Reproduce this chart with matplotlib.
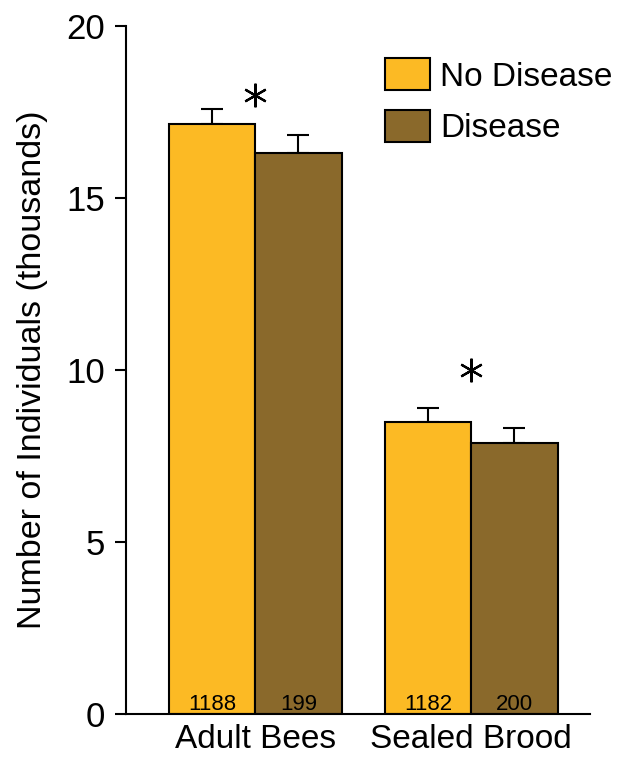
import numpy as np
import matplotlib.pyplot as plt

plt.rcParams['font.family'] = ['Liberation Sans', 'DejaVu Sans']

groups = ["Adult Bees", "Sealed Brood"]
labels = ["No Disease", "Disease"]
no_disease = [17.15, 8.49]
disease = [16.31, 7.88]
no_disease_err = [0.42, 0.41]
disease_err = [0.52, 0.43]
counts_nd = ["1188", "1182"]
counts_d = ["199", "200"]
star_y = [18.0, 10.0]

yellow = "#FCBA24"
brown = "#8A692B"

fig = plt.figure(figsize=(6.35, 7.58), dpi=100)
ax = fig.add_axes([0.198, 0.058, 0.731, 0.908])

x = np.arange(len(groups))
w = 0.4
ekw = dict(lw=1.5, capsize=8, capthick=1.5, ecolor="black")

ax.bar(x - w / 2, no_disease, w, color=yellow, edgecolor="black", lw=1.5,
       label=labels[0], zorder=2)
ax.bar(x + w / 2, disease, w, color=brown, edgecolor="black", lw=1.5,
       label=labels[1], zorder=2)
ax.errorbar(x - w / 2, no_disease, yerr=[np.zeros(2), no_disease_err],
            fmt="none", zorder=1, **ekw)
ax.errorbar(x + w / 2, disease, yerr=[np.zeros(2), disease_err],
            fmt="none", zorder=1, **ekw)

for i in range(len(groups)):
    ax.text(x[i] - w / 2, 0.12, counts_nd[i], ha="center", va="baseline", fontsize=16)
    ax.text(x[i] + w / 2, 0.12, counts_d[i], ha="center", va="baseline", fontsize=16)

ax.plot(x, star_y, ls="none", marker=(6, 2, 0), ms=17, mew=1.6, color="black")

ax.set_xlim(-0.60, 1.55)
ax.set_ylim(0, 20)
ax.set_yticks([0, 5, 10, 15, 20])
ax.set_xticks(x)
ax.set_xticklabels(groups, fontsize=24)
ax.tick_params(axis="x", length=0, pad=7)
ax.tick_params(axis="y", labelsize=25, length=8, width=1.5, pad=7)
ax.set_ylabel("Number of Individuals (thousands)", fontsize=24.5, labelpad=13)

for s in ["top", "right"]:
    ax.spines[s].set_visible(False)
for s in ["left", "bottom"]:
    ax.spines[s].set_linewidth(1.5)

ax.legend(loc="upper left", bbox_to_anchor=(0.53, 0.972), fontsize=24, frameon=False,
          handlelength=1.36, handleheight=1.1, handletextpad=0.3, labelspacing=0.52,
          borderaxespad=0)

fig.savefig("out.png", dpi=100)
